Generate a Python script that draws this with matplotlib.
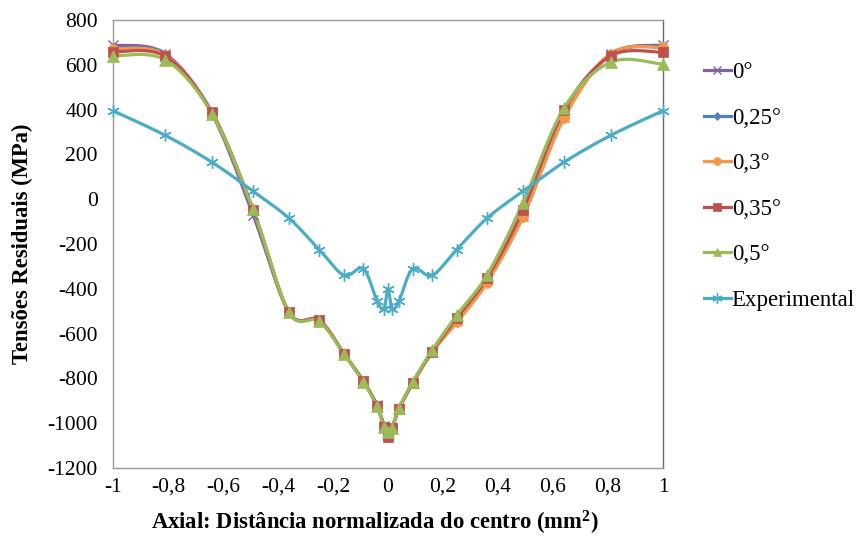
import numpy as np
import matplotlib
matplotlib.use("Agg")
import matplotlib.pyplot as plt
from matplotlib.lines import Line2D

# Normalised axial distance from the centre
x_pos = [-1.0, -0.81, -0.64, -0.49, -0.36, -0.25, -0.16, -0.09, -0.04, -0.015, 0.0,
         0.015, 0.04, 0.09, 0.16, 0.25, 0.36, 0.49, 0.64, 0.81, 1.0]

# Residual stresses (MPa) for each misalignment angle
s_0 = [688, 650, 380, -72, -505, -540, -690, -812, -920, -1012, -1050,
       -1020, -935, -820, -682, -540, -362, -75, 368, 648, 688]
s_025 = [676, 646, 385, -55, -505, -540, -690, -812, -920, -1012, -1055,
         -1020, -935, -820, -682, -545, -368, -80, 365, 648, 680]
s_03 = [672, 644, 385, -50, -505, -540, -690, -812, -922, -1015, -1060,
        -1022, -937, -822, -684, -550, -373, -80, 362, 650, 678]
s_035 = [658, 638, 388, -48, -505, -540, -690, -812, -922, -1015, -1062,
         -1022, -935, -820, -680, -530, -352, -50, 398, 640, 656]
s_05 = [640, 622, 382, -45, -505, -545, -692, -815, -925, -1018, -1040,
        -1020, -932, -815, -675, -517, -339, -18, 407, 612, 602]
s_exp = [395, 285, 165, 35, -85, -225, -340, -310, -455, -490, -400,
         -490, -455, -310, -340, -225, -85, 35, 165, 285, 395]

labels = ["0°", "0,25°", "0,3°", "0,35°", "0,5°", "Experimental"]
series = [s_0, s_025, s_03, s_035, s_05, s_exp]
colors = ["#8064A2", "#4F81BD", "#F79646", "#C0504D", "#9BBB59", "#4BACC6"]
markers = ["x", "D", "o", "s", "^", (6, 2, 0)]
msizes = [7, 5, 7, 7, 8, 9]

x_ticks = [-1, -0.8, -0.6, -0.4, -0.2, 0, 0.2, 0.4, 0.6, 0.8, 1]
x_ticklabels = ["-1", "-0,8", "-0,6", "-0,4", "-0,2", "0", "0,2", "0,4", "0,6", "0,8", "1"]
y_ticks = list(range(-1200, 801, 200))


def smooth(xs, ys, n=30):
    """Smoothed line through the points (cubic Bezier, Catmull-Rom handles)."""
    p = np.column_stack([xs, ys]).astype(float)
    ext = np.vstack([p[0], p, p[-1]])
    out = []
    t = np.linspace(0, 1, n)[:, None]
    for i in range(1, len(ext) - 2):
        p0, p1, p2, p3 = ext[i - 1], ext[i], ext[i + 1], ext[i + 2]
        c1 = p1 + (p2 - p0) / 6.0
        c2 = p2 - (p3 - p1) / 6.0
        seg = ((1 - t) ** 3) * p1 + 3 * ((1 - t) ** 2) * t * c1 + 3 * (1 - t) * t ** 2 * c2 + t ** 3 * p2
        out.append(seg if i == 1 else seg[1:])
    seg = np.vstack(out)
    return seg[:, 0], seg[:, 1]


plt.rcParams["font.family"] = ["Liberation Serif", "DejaVu Serif"]
plt.rcParams["axes.unicode_minus"] = False

fig = plt.figure(figsize=(8.6, 5.42), dpi=100)
ax = fig.add_axes([113 / 860, 1 - 468 / 542, 550 / 860, 448 / 542])

handles = []
for ys, c, m, ms, lab in zip(series, colors, markers, msizes, labels):
    sx, sy = smooth(x_pos, ys)
    ax.plot(sx, sy, color=c, lw=2.3, solid_capstyle="round", zorder=2)
    mkw = dict(marker=m, ms=ms, color=c, lw=0)
    if m in ("x", (6, 2, 0)):
        mkw.update(mew=1.0)
    else:
        mkw.update(mec=c, mew=0.5)
    ax.plot(x_pos, ys, clip_on=False, zorder=3, **mkw)
    handles.append(Line2D([], [], color=c, lw=2.3, marker=m,
                          ms=ms * 0.8, mew=1.0 if m in ("x", (6, 2, 0)) else 0.5,
                          mec=c, label=lab))

ax.set_xlim(-1, 1)
ax.set_ylim(-1200, 800)
ax.set_xticks(x_ticks)
ax.set_xticklabels(x_ticklabels)
ax.set_yticks(y_ticks)
ax.tick_params(length=0, labelsize=15.5)
ax.tick_params(axis="y", pad=11)
ax.tick_params(axis="x", pad=7)
for side in ["left", "bottom", "top"]:
    ax.spines[side].set_color("#9a9a9a")
ax.spines["right"].set_color("#6a6a6a")
for s in ax.spines.values():
    s.set_linewidth(1.0)

ax.set_xlabel("Axial: Distância normalizada do centro (mm$\\mathregular{^2}$)",
              fontsize=16.3, fontweight="bold")
ax.xaxis.set_label_coords((375 - 113) / 550, -(523 - 468) / 448)
ax.xaxis.label.set_verticalalignment("center")
ax.set_ylabel("Tensões Residuais (MPa)", fontsize=16.3, fontweight="bold")
ax.yaxis.set_label_coords(-(113 - 22) / 550, 0.5)
ax.yaxis.label.set_verticalalignment("center")

fig.legend(handles=handles, loc="upper left", bbox_to_anchor=(695 / 860, 1 - 53 / 542),
           frameon=False, fontsize=16.5, handlelength=1.15, handletextpad=0.05,
           labelspacing=1.07, borderaxespad=0)

fig.savefig("out.png", dpi=100, facecolor="white")
